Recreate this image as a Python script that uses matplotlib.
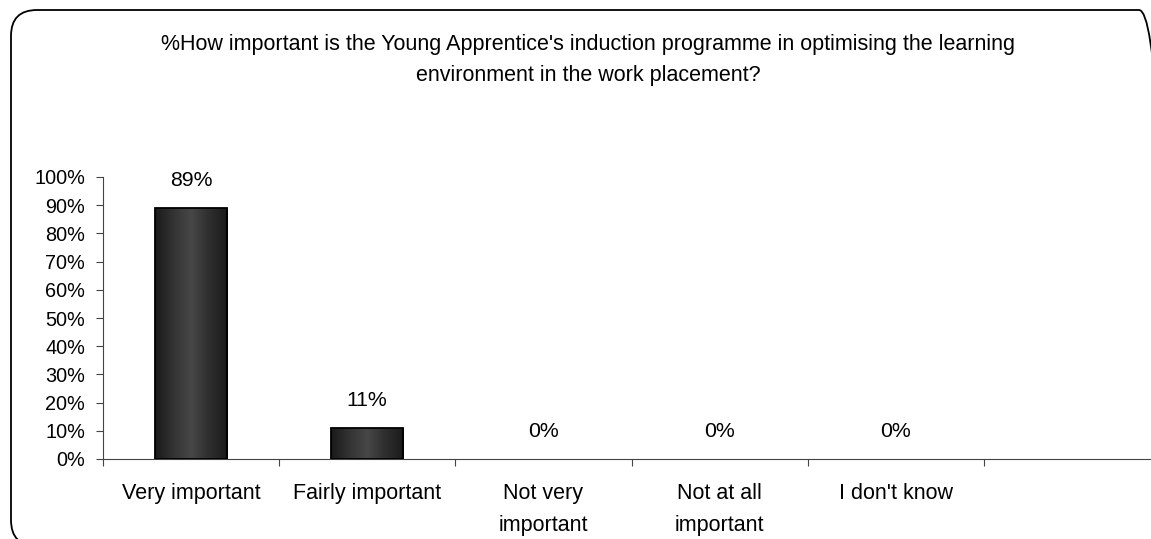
import matplotlib.pyplot as plt
import numpy as np
from matplotlib.patches import FancyBboxPatch
from matplotlib.colors import LinearSegmentedColormap
from matplotlib.ticker import FixedLocator
from matplotlib.transforms import IdentityTransform

plt.rcParams['font.family'] = ['Liberation Sans', 'DejaVu Sans']

categorias = ["Very important", "Fairly important", "Not very\nimportant",
              "Not at all\nimportant", "I don't know", ""]
valores = [89, 11, 0, 0, 0]
etiquetas = ["89%", "11%", "0%", "0%", "0%"]
titulo = ("%How important is the Young Apprentice's induction programme in optimising the learning\n"
          "environment in the work placement?")

fig = plt.figure(figsize=(11.51, 5.39), dpi=100)

# marco redondeado tipo Excel (en pixeles)
marco = FancyBboxPatch((11, -7), 1154, 536,
                       boxstyle="round,pad=0,rounding_size=26",
                       transform=IdentityTransform(), fill=False, edgecolor='black',
                       linewidth=1.3, clip_on=False)
fig.patches.append(marco)

ax = fig.add_axes([103 / 1151, 1 - 459 / 539, 1057 / 1151, (459 - 177) / 539])

# degradado de las barras
cmapBarra = LinearSegmentedColormap.from_list("barra", ["#1a1a1a", "#333333", "#474747", "#2e2e2e", "#1a1a1a"])
gradiente = np.linspace(0, 1, 256).reshape(1, -1)

ancho = 0.41
barras = ax.bar(range(len(valores)), valores, width=ancho, color='none', edgecolor='black',
                linewidth=1.3, zorder=3)
for b in barras:
    if b.get_height() <= 0:
        b.set_linewidth(0)  # las barras en 0 no se ven
        continue
    x0 = b.get_x()
    im = ax.imshow(gradiente, cmap=cmapBarra, aspect='auto',
                   extent=(x0, x0 + b.get_width(), 0, b.get_height()), zorder=2)
    im.set_clip_path(b)

for i, v in enumerate(valores):
    ax.annotate(etiquetas[i], (i, v), xytext=(0, 20), textcoords='offset points',
                ha='center', va='center', fontsize=15.3)

ax.set_xlim(-0.5, 5.5)
ax.set_ylim(0, 100)
ax.yaxis.set_major_locator(FixedLocator(np.arange(0, 101, 10)))
ax.set_yticklabels([f"{t}%" for t in range(0, 101, 10)], fontsize=14.3)
ax.xaxis.set_major_locator(FixedLocator(np.arange(-0.5, 5.6, 1)))
ax.xaxis.set_minor_locator(FixedLocator(np.arange(0, 6)))
ax.set_xticklabels([])
ax.set_xticklabels(categorias, minor=True, fontsize=15.5, va='top', linespacing=1.7)
ax.tick_params(axis='x', which='minor', length=0, pad=17)
ax.tick_params(axis='x', which='major', length=5, color='#444444', direction='out')
ax.tick_params(axis='y', length=5, color='#444444', direction='out', pad=8)

for lado in ['top', 'right']:
    ax.spines[lado].set_visible(False)
ax.spines['left'].set_color('#444444')
ax.spines['bottom'].set_color('#444444')
ax.set_facecolor('none')

fig.text(588 / 1151, 1 - 60 / 539, titulo, ha='center', va='center', fontsize=15.5,
         linespacing=1.66)

fig.savefig("out.png", dpi=100)
